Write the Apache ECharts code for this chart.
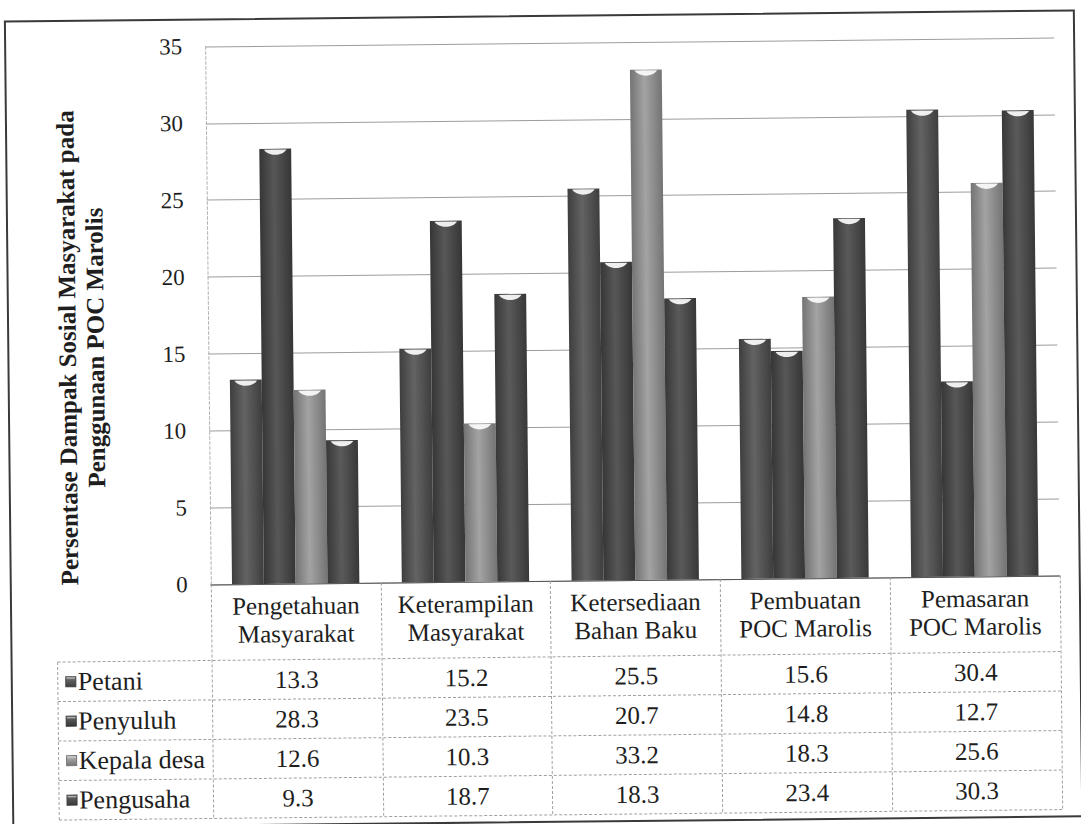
<!DOCTYPE html>
<html>
<head>
<meta charset="utf-8">
<script src="https://cdn.jsdelivr.net/npm/echarts@6/dist/echarts.min.js"></script>
<style>
  html, body { margin: 0; padding: 0; background: #fff; overflow: hidden; }
  #chart { width: 1081px; height: 824px; transform: rotate(-0.6deg); }
</style>
</head>
<body>
<div id="chart"></div>
<script>
// Categories (aspects of social impact) and respondent groups
const categories = ['Pengetahuan\nMasyarakat', 'Keterampilan\nMasyarakat', 'Ketersediaan\nBahan Baku', 'Pembuatan\nPOC Marolis', 'Pemasaran\nPOC Marolis'];
const seriesNames = ['Petani', 'Penyuluh', 'Kepala desa', 'Pengusaha'];

// Percentages per group
const petani     = [13.3, 15.2, 25.5, 15.6, 30.4];
const penyuluh   = [28.3, 23.5, 20.7, 14.8, 12.7];
const kepalaDesa = [12.6, 10.3, 33.2, 18.3, 25.6];
const pengusaha  = [9.3, 18.7, 18.3, 23.4, 30.3];

// Value axis ticks
const yTicks = [0, 5, 10, 15, 20, 25, 30, 35];
const yTitle = ['Persentase Dampak Sosial Masyarakat pada', 'Penggunaan POC Marolis'];

const seriesData = [petani, penyuluh, kepalaDesa, pengusaha];

// Grey shading (edge, centre) for each group
const shades = [
  ['#3e3e3e', '#636363'],
  ['#363636', '#575757'],
  ['#747474', '#a3a3a3'],
  ['#383838', '#5a5a5a']
];

const SERIF = 'Liberation Serif, serif';
const TEXT = '#1e1e1e';

function barFill(i) {
  return new echarts.graphic.LinearGradient(0, 0, 1, 0, [
    { offset: 0, color: shades[i][0] },
    { offset: 0.45, color: shades[i][1] },
    { offset: 1, color: shades[i][0] }
  ]);
}

const capPath = 'path://M0,0 L100,0 C82,70 18,70 0,0 Z';

const chart = echarts.init(document.getElementById('chart'), null, { renderer: 'svg' });

const grid = { left: 209, right: 23, top: 43, bottom: 243 };

const series = [];
seriesData.forEach((d, i) => {
  series.push({
    type: 'bar',
    name: seriesNames[i],
    data: d,
    barCategoryGap: '25%',
    barGap: '0%',
    itemStyle: { color: barFill(i) },
    silent: true,
    z: 2
  });
});
// light top caps on each column
seriesData.forEach((d, i) => {
  series.push({
    type: 'pictorialBar',
    name: seriesNames[i] + ' cap',
    data: d,
    barCategoryGap: '25%',
    barGap: '0%',
    symbol: capPath,
    symbolSize: ['70%', 5],
    symbolPosition: 'end',
    symbolOffset: [0, 1],
    itemStyle: { color: 'rgba(252,252,252,0.92)' },
    silent: true,
    z: 3
  });
});

chart.setOption({
  animation: false,
  backgroundColor: '#ffffff',
  grid: grid,
  xAxis: {
    type: 'category',
    data: categories,
    axisLine: { lineStyle: { color: '#555', width: 1 } },
    axisTick: { show: true, length: 234, lineStyle: { color: '#a0a0a0', type: [3, 2] } },
    axisLabel: {
      fontFamily: SERIF, fontSize: 25, color: TEXT,
      lineHeight: 28, margin: 8, interval: 0
    },
    splitLine: { show: false }
  },
  yAxis: {
    type: 'value',
    min: yTicks[0],
    max: yTicks[yTicks.length - 1],
    interval: yTicks[1] - yTicks[0],
    axisLine: { show: true, lineStyle: { color: '#b0b0b0', type: [3, 2] } },
    axisTick: { show: false },
    axisLabel: { fontFamily: SERIF, fontSize: 23, color: TEXT, margin: 23 },
    splitLine: { lineStyle: { color: '#9c9c9c', width: 1 } }
  },
  series: series
});

// Data table below the plot, aligned with the category bands
const c0 = chart.convertToPixel({ xAxisIndex: 0 }, 0);
const c1 = chart.convertToPixel({ xAxisIndex: 0 }, 1);
const band = c1 - c0;
const tableRight = c0 + band * (categories.length - 0.5);
const tableLeft = 55;
const rowTop = 657;
const rowH = 39.5;

const gfx = [];
// outer frame
gfx.push({ type: 'rect', silent: true, shape: { x: 9, y: 16, width: 1069, height: 806 },
  style: { fill: 'none', stroke: '#3a3a3a', lineWidth: 2 } });

// y-axis title
gfx.push({ type: 'text', silent: true, x: 82, y: 343, rotation: Math.PI / 2,
  style: { text: yTitle.join('\n'), fontFamily: SERIF, fontSize: 25, fontWeight: 'bold', fill: TEXT,
           align: 'center', verticalAlign: 'middle', lineHeight: 28 } });

// table rule lines
for (let r = 0; r <= seriesNames.length; r++) {
  const y = rowTop + r * rowH;
  gfx.push({ type: 'line', silent: true, shape: { x1: tableLeft, y1: y, x2: tableRight, y2: y },
    style: { stroke: '#a0a0a0', lineWidth: 1, lineDash: [3, 2] } });
}
gfx.push({ type: 'line', silent: true,
  shape: { x1: tableLeft, y1: rowTop, x2: tableLeft, y2: rowTop + rowH * seriesNames.length },
  style: { stroke: '#a0a0a0', lineWidth: 1, lineDash: [3, 2] } });

seriesNames.forEach((name, r) => {
  const cy = rowTop + r * rowH + rowH / 2;
  // legend key
  gfx.push({ type: 'rect', silent: true, shape: { x: 63, y: cy - 5, width: 10, height: 10 },
    style: { fill: new echarts.graphic.LinearGradient(0, 0, 0, 1, [
      { offset: 0, color: '#f0f0f0' }, { offset: 0.3, color: shades[r][1] }, { offset: 1, color: shades[r][0] }
    ]), stroke: shades[r][0], lineWidth: 1 } });
  gfx.push({ type: 'text', silent: true, x: 75, y: cy,
    style: { text: name, fontFamily: SERIF, fontSize: 26, fill: TEXT, align: 'left', verticalAlign: 'middle' } });
  seriesData[r].forEach((v, c) => {
    gfx.push({ type: 'text', silent: true, x: c0 + band * c, y: cy,
      style: { text: v.toFixed(1), fontFamily: SERIF, fontSize: 25, fill: TEXT, align: 'center', verticalAlign: 'middle' } });
  });
});

chart.setOption({ graphic: gfx });
</script>
</body>
</html>
